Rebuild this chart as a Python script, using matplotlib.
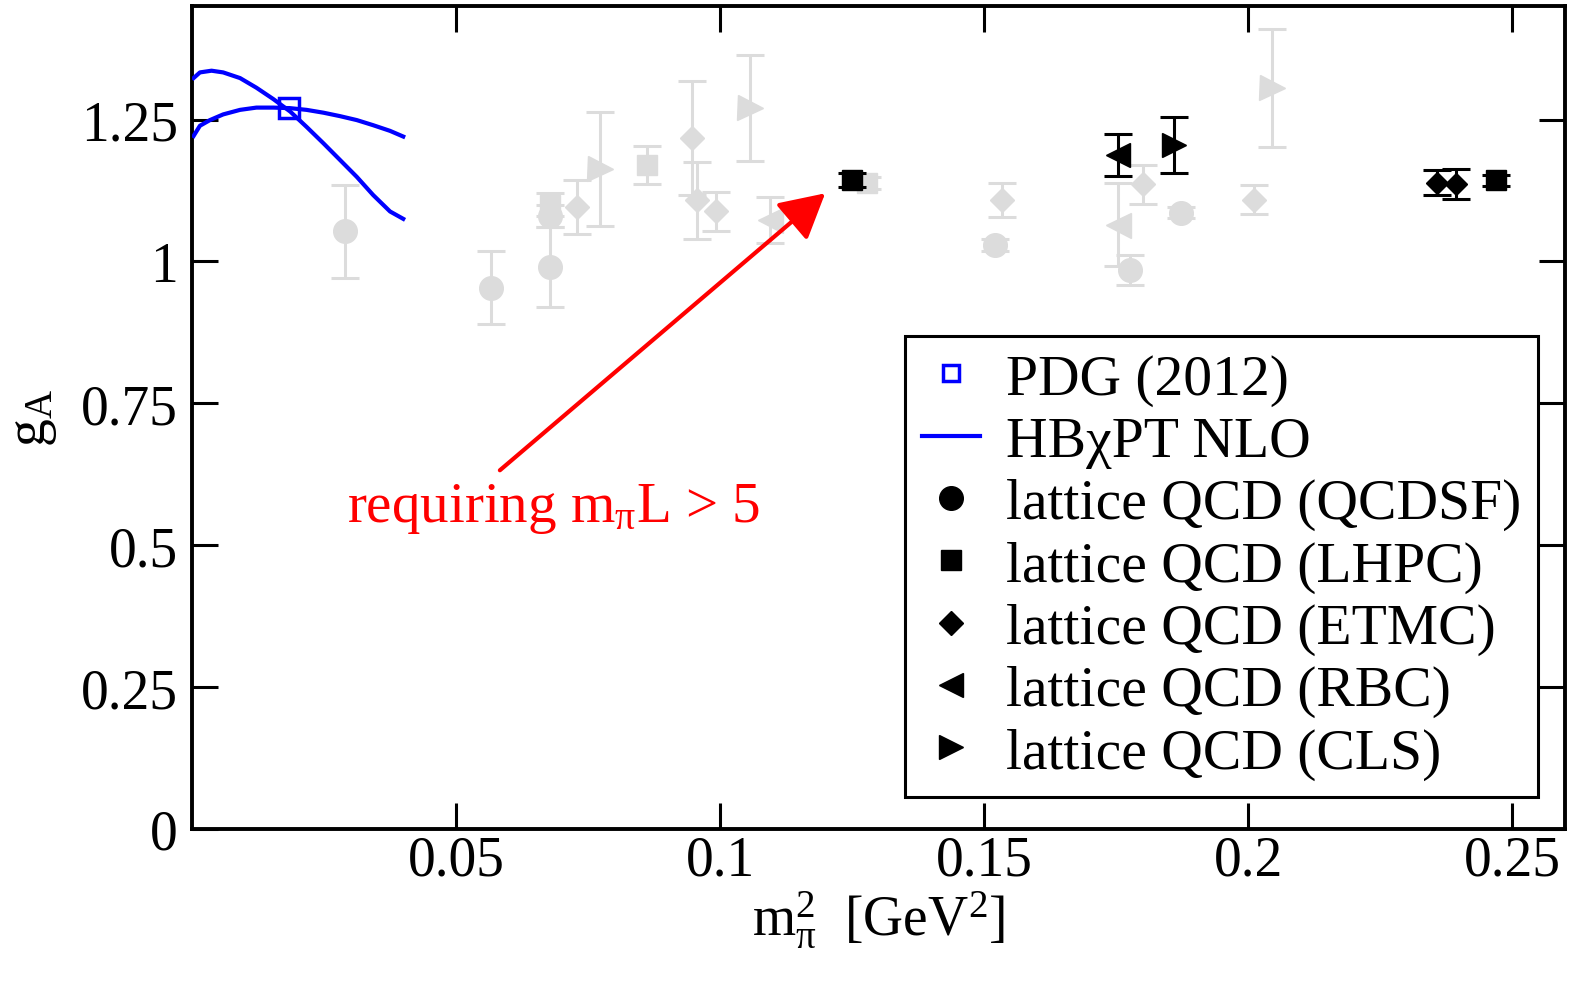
import matplotlib
matplotlib.use("Agg")
import matplotlib.pyplot as plt
from matplotlib.lines import Line2D

plt.rcParams['font.family'] = ['Liberation Serif', 'DejaVu Serif']
plt.rcParams['mathtext.fontset'] = 'custom'
plt.rcParams['mathtext.rm'] = 'Liberation Serif'
plt.rcParams['mathtext.it'] = 'Liberation Serif:italic'
plt.rcParams['mathtext.bf'] = 'Liberation Serif:bold'

# ---------------- data ----------------
# gray points (all lattice data): x = m_pi^2 [GeV^2], y = g_A, e = error
qcdsf_gray_x = [0.0290, 0.0566, 0.0678, 0.0678, 0.1521, 0.1776, 0.1873]
qcdsf_gray_y = [1.053, 0.954, 0.990, 1.080, 1.029, 0.985, 1.086]
qcdsf_gray_e = [0.082, 0.065, 0.070, 0.020, 0.010, 0.027, 0.010]

lhpc_gray_x = [0.0678, 0.0861, 0.1278]
lhpc_gray_y = [1.100, 1.170, 1.138]
lhpc_gray_e = [0.020, 0.034, 0.010]

etmc_gray_x = [0.0729, 0.0946, 0.0956, 0.0992, 0.1533, 0.1800, 0.2011]
etmc_gray_y = [1.096, 1.217, 1.108, 1.088, 1.109, 1.136, 1.109]
etmc_gray_e = [0.048, 0.100, 0.068, 0.034, 0.030, 0.034, 0.026]

rbc_gray_x = [0.1095, 0.1754]
rbc_gray_y = [1.073, 1.065]
rbc_gray_e = [0.040, 0.073]

cls_gray_x = [0.0773, 0.1057, 0.2045]
cls_gray_y = [1.163, 1.270, 1.306]
cls_gray_e = [0.100, 0.093, 0.104]

# black points (m_pi L > 5)
lhpc_x = [0.1249, 0.2470]
lhpc_y = [1.143, 1.143]
lhpc_e = [0.012, 0.010]

etmc_x = [0.2357, 0.2393]
etmc_y = [1.139, 1.136]
etmc_e = [0.022, 0.026]

rbc_x = [0.1754]
rbc_y = [1.187]
rbc_e = [0.037]

cls_x = [0.1859]
cls_y = [1.205]
cls_e = [0.050]

# PDG
pdg_x = [0.0184]
pdg_y = [1.270]
pdg_e = [0.003]

# HBchiPT NLO curves
curveA_x = [0.0003, 0.0015, 0.0037, 0.0059, 0.0091, 0.0122, 0.0154, 0.0186,
            0.0217, 0.0249, 0.0280, 0.0312, 0.0343, 0.0375, 0.0400]
curveA_y = [1.323, 1.333, 1.336, 1.333, 1.323, 1.306, 1.286, 1.264,
            1.237, 1.208, 1.179, 1.149, 1.117, 1.088, 1.075]
curveB_x = [0.0003, 0.0015, 0.0034, 0.0059, 0.0091, 0.0122, 0.0154, 0.0186,
            0.0217, 0.0249, 0.0280, 0.0312, 0.0343, 0.0375, 0.0400]
curveB_y = [1.221, 1.239, 1.249, 1.259, 1.267, 1.271, 1.271, 1.270,
            1.267, 1.262, 1.256, 1.249, 1.240, 1.230, 1.220]

xticks = [0.05, 0.1, 0.15, 0.2, 0.25]
xticklabels = ['0.05', '0.1', '0.15', '0.2', '0.25']
yticks = [0, 0.25, 0.5, 0.75, 1.0, 1.25]
yticklabels = ['0', '0.25', '0.5', '0.75', '1', '1.25']

legend_labels = ['PDG (2012)', 'HB\u03c7PT NLO', 'lattice QCD (QCDSF)',
                 'lattice QCD (LHPC)', 'lattice QCD (ETMC)',
                 'lattice QCD (RBC)', 'lattice QCD (CLS)']

# ---------------- plot ----------------
fig = plt.figure(figsize=(15.72, 9.87), dpi=100)
ax = fig.add_axes([192/1572, 1 - 830/987, (1565-192)/1572, (830-7)/987])

GRAY = '#dcdcdc'
msz = {'o': 17, 's': 15, 'D': 12.5, '<': 18, '>': 18}
eb = dict(ls='none', elinewidth=2.2, capsize=10, capthick=2.2)

for xs, ys, es, m in [(qcdsf_gray_x, qcdsf_gray_y, qcdsf_gray_e, 'o'),
                      (lhpc_gray_x, lhpc_gray_y, lhpc_gray_e, 's'),
                      (etmc_gray_x, etmc_gray_y, etmc_gray_e, 'D'),
                      (rbc_gray_x, rbc_gray_y, rbc_gray_e, '<'),
                      (cls_gray_x, cls_gray_y, cls_gray_e, '>')]:
    ax.errorbar(xs, ys, yerr=es, marker=m, ms=msz[m], color=GRAY,
                mec=GRAY, mfc=GRAY, zorder=2, **eb)

for xs, ys, es, m in [(lhpc_x, lhpc_y, lhpc_e, 's'),
                      (etmc_x, etmc_y, etmc_e, 'D'),
                      (rbc_x, rbc_y, rbc_e, '<'),
                      (cls_x, cls_y, cls_e, '>')]:
    ax.errorbar(xs, ys, yerr=es, marker=m, ms=msz[m] - 1, color='black',
                mec='black', mfc='black', zorder=3, **eb)

ax.plot(curveA_x, curveA_y, color='blue', lw=3, zorder=4)
ax.plot(curveB_x, curveB_y, color='blue', lw=3, zorder=4)
ax.errorbar(pdg_x, pdg_y, yerr=pdg_e, marker='s', ms=14, mfc='none',
            mec='blue', mew=2.5, color='blue', ls='none', zorder=5)

# arrow + annotation
ax.annotate('', xy=(0.1199, 1.120), xytext=(0.0583, 0.632),
            arrowprops=dict(arrowstyle='-|>,head_length=0.55,head_width=0.3',
                            mutation_scale=50, color='red', lw=3,
                            shrinkA=0, shrinkB=0), zorder=6)
ax.text(0.0684, 0.543, r'requiring m$_\mathrm{\pi}$L > 5', color='red',
        fontsize=41, ha='center', va='baseline', zorder=6)

ax.set_xlim(0, 0.26)
ax.set_ylim(0, 1.45)
ax.set_xticks(xticks)
ax.set_xticklabels(xticklabels)
ax.set_yticks(yticks)
ax.set_yticklabels(yticklabels)
ax.tick_params(direction='in', length=19, width=2.2, top=True, right=True,
               labelsize=40)
ax.tick_params(axis='x', pad=4)
ax.tick_params(axis='y', pad=10)
for s in ax.spines.values():
    s.set_linewidth(2.8)

ax.set_xlabel(r'm$_\mathrm{\pi}^\mathrm{2}$  [GeV$^\mathrm{2}$]', fontsize=40,
              labelpad=2)
ax.set_ylabel(r'g$_\mathrm{A}$', fontsize=40, labelpad=16)

handles = [
    Line2D([], [], marker='s', ms=11, mfc='none', mec='blue', mew=2.5, ls='none'),
    Line2D([], [], color='blue', lw=3),
    Line2D([], [], marker='o', ms=17, color='black', ls='none'),
    Line2D([], [], marker='s', ms=14, color='black', ls='none'),
    Line2D([], [], marker='D', ms=12, color='black', ls='none'),
    Line2D([], [], marker='<', ms=17, color='black', ls='none'),
    Line2D([], [], marker='>', ms=17, color='black', ls='none'),
]
leg = ax.legend(handles, legend_labels, loc='upper left',
                bbox_to_anchor=((905-192)/1373, (830-337)/823),
                borderaxespad=0, fontsize=41.5, frameon=True, fancybox=False,
                edgecolor='black', framealpha=1, handlelength=1.0,
                handletextpad=0.45, labelspacing=0.17, borderpad=0.3)
leg.get_frame().set_linewidth(2.2)
leg.set_zorder(10)

fig.savefig('out.png', dpi=100)
